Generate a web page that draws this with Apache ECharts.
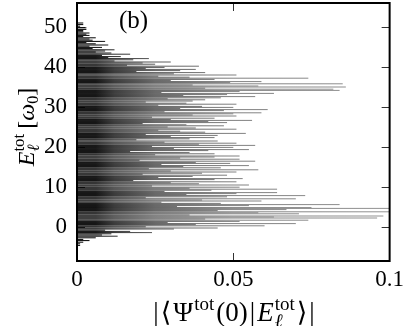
<!DOCTYPE html>
<html><head><meta charset="utf-8">
<script src="https://cdn.jsdelivr.net/npm/echarts@6/dist/echarts.min.js"></script>
<style>html,body{margin:0;padding:0;background:#fff}#c{width:407px;height:326px}</style>
</head><body><div id="c"></div>
<script>
// Eigen-energies E_l^tot (units of omega_0)
const levelEnergy = [
  -4.6,-4.2,-3.8,-3.4,-3.1,-2.7,-2.3,-2.0,-1.7,-1.4,
  -1.1,-0.8,-0.5,-0.25,0.05,0.3,0.6,0.85,1.1,1.4,
  1.7,2.0,2.25,2.5,2.75,3.0,3.3,3.55,3.8,4.1,
  4.35,4.65,4.85,5.1,5.35,5.6,5.9,6.2,6.5,6.75,
  7.05,7.3,7.55,7.85,8.1,8.35,8.6,8.9,9.2,9.45,
  9.7,9.95,10.25,10.5,10.8,11.05,11.3,11.6,11.85,12.1,
  12.4,12.65,12.95,13.2,13.45,13.75,14.0,14.3,14.55,14.8,
  15.1,15.35,15.6,15.9,16.15,16.45,16.7,16.95,17.25,17.5,
  17.75,18.05,18.3,18.6,18.85,19.1,19.35,19.65,19.9,20.15,
  20.4,20.7,20.95,21.2,21.5,21.8,22.05,22.35,22.6,22.9,
  23.15,23.4,23.7,23.95,24.2,24.45,24.75,25.0,25.3,25.55,
  25.85,26.1,26.35,26.65,26.9,27.2,27.45,27.75,28.0,28.3,
  28.55,28.8,29.1,29.35,29.6,29.9,30.15,30.45,30.7,30.95,
  31.25,31.5,31.8,32.05,32.3,32.6,32.85,33.1,33.4,33.65,
  33.9,34.15,34.45,34.7,35.0,35.25,35.5,35.8,36.1,36.35,
  36.6,36.9,37.2,37.45,37.7,38.0,38.3,38.6,38.85,39.1,
  39.4,39.65,39.9,40.2,40.45,40.7,41.0,41.25,41.5,41.8,
  42.1,42.35,42.6,42.9,43.2,43.5,43.75,44.0,44.3,44.6,
  44.9,45.2,45.5,45.8,46.1,46.4,46.7,47.0,47.3,47.6,
  47.9,48.2,48.5,48.8,49.1,49.4,49.8,50.2,50.6,51.0
];
// Overlaps |<Psi^tot(0)|E_l^tot>|
const levelOverlap = [
  0.001,0.001,0.002,0.004,0.002,0.006,0.013,0.008,0.011,0.024,
  0.017,0.009,0.031,0.045,0.022,0.060,0.038,0.070,0.029,0.052,
  0.074,0.041,0.096,0.063,0.098,0.036,0.071,0.058,0.102,0.045,
  0.067,0.101,0.075,0.032,0.055,0.084,0.046,0.027,0.059,0.040,
  0.070,0.022,0.048,0.073,0.035,0.051,0.064,0.028,0.043,0.064,
  0.036,0.052,0.024,0.055,0.039,0.030,0.051,0.018,0.044,0.053,
  0.026,0.037,0.048,0.021,0.040,0.051,0.030,0.058,0.023,0.046,
  0.034,0.055,0.027,0.049,0.038,0.057,0.020,0.052,0.033,0.044,
  0.052,0.025,0.044,0.036,0.017,0.042,0.055,0.031,0.050,0.024,
  0.057,0.039,0.051,0.028,0.045,0.019,0.036,0.044,0.030,0.045,
  0.022,0.054,0.041,0.033,0.026,0.051,0.038,0.029,0.047,0.035,
  0.021,0.048,0.042,0.056,0.030,0.044,0.024,0.051,0.037,0.050,
  0.059,0.028,0.047,0.061,0.033,0.050,0.040,0.026,0.051,0.035,
  0.022,0.037,0.041,0.029,0.046,0.057,0.034,0.048,0.063,0.027,
  0.052,0.084,0.082,0.041,0.086,0.058,0.037,0.085,0.049,0.059,
  0.030,0.044,0.074,0.036,0.026,0.051,0.031,0.041,0.019,0.033,
  0.038,0.022,0.028,0.039,0.016,0.025,0.021,0.030,0.012,0.018,
  0.023,0.010,0.014,0.008,0.017,0.011,0.006,0.009,0.012,0.005,
  0.008,0.004,0.010,0.006,0.003,0.009,0.005,0.004,0.006,0.002,
  0.004,0.003,0.004,0.002,0.002,0.003,0.003,0.001,0.002,0.002
];
const xTicks = [0, 0.05, 0.1];
const xTickLabels = ['0', '0.05', '0.1'];
const yTicks = [0, 10, 20, 30, 40, 50];
const yTickLabels = ['0', '10', '20', '30', '40', '50'];
const panelLabel = '(b)';

const SERIF = "'Liberation Serif','DejaVu Serif',serif";
const chart = echarts.init(document.getElementById('c'));
const data = levelEnergy.map((e, i) => [levelOverlap[i], e]);

function fmt(list, labels) {
  return v => { const i = list.findIndex(t => Math.abs(t - v) < 1e-9); return i >= 0 ? labels[i] : ''; };
}

const tickStyle = {show: true, inside: true, length: 8, lineStyle: {color: '#333', width: 1}};
const labelStyle = {fontFamily: SERIF, fontSize: 23, color: '#000'};

// math-like text layout helper
const mctx = document.createElement('canvas').getContext('2d');
function measure(t, size, italic) {
  mctx.font = (italic ? 'italic ' : '') + size + 'px ' + SERIF;
  return mctx.measureText(t).width;
}
function mathPieces(pieces) {
  // local coords: baseline at y=0, start at x=0
  let x = 0; const els = [];
  pieces.forEach(p => {
    let w = 0;
    p.parts.forEach(q => {
      const s = q.size, it = !!q.italic;
      els.push({type: 'text', x: x + (q.dx || 0), y: (q.dy || 0) + 0.22 * s,
        style: {text: q.t, font: (it ? 'italic ' : '') + s + 'px ' + SERIF, fill: '#000',
          verticalAlign: 'bottom', align: 'left'}});
      w = Math.max(w, measure(q.t, s, it) + (q.dx || 0));
    });
    x += w + (p.gap || 0);
  });
  return {els, width: x};
}

const xt = mathPieces([
  {parts: [{t: '|', size: 27}], gap: 2},
  {parts: [{t: '⟨', size: 27}], gap: 2},
  {parts: [{t: 'Ψ', size: 27}], gap: 1},
  {parts: [{t: 'tot', size: 19, dy: -11}], gap: 2},
  {parts: [{t: '(0)', size: 27}], gap: 2},
  {parts: [{t: '|', size: 27}], gap: 2},
  {parts: [{t: 'E', size: 27, italic: true}], gap: 1},
  {parts: [{t: 'tot', size: 19, dy: -11}, {t: 'ℓ', size: 19, italic: true, dy: 6}], gap: 2},
  {parts: [{t: '⟩', size: 27}], gap: 2},
  {parts: [{t: '|', size: 27}]}
]);
const yt = mathPieces([
  {parts: [{t: 'E', size: 24, italic: true}]},
  {parts: [{t: 'tot', size: 17, dy: -10}, {t: 'ℓ', size: 17, italic: true, dy: 5}], gap: 5},
  {parts: [{t: '[', size: 24}]},
  {parts: [{t: 'ω', size: 24, italic: true}]},
  {parts: [{t: '0', size: 16, dy: 4}]},
  {parts: [{t: ']', size: 24}]}
]);

const noLine = {show: false, onZero: false};
chart.setOption({
  animation: false,
  backgroundColor: '#fff',
  grid: {left: 77, top: 3, width: 313, height: 258, show: true, borderColor: '#000', borderWidth: 2, backgroundColor: 'transparent', z: 10},
  xAxis: [
    {type: 'value', min: 0, max: 0.1, interval: 0.05, position: 'bottom',
     axisLine: noLine, axisTick: tickStyle, splitLine: {show: false},
     axisLabel: Object.assign({formatter: fmt(xTicks, xTickLabels), margin: 7, showMinLabel: true, showMaxLabel: true}, labelStyle)},
    {type: 'value', min: 0, max: 0.1, interval: 0.05, position: 'top',
     axisLine: noLine, axisTick: tickStyle, splitLine: {show: false}, axisLabel: {show: false}}
  ],
  yAxis: [
    {type: 'value', min: -8.5, max: 56, position: 'left',
     axisLine: noLine, axisTick: Object.assign({customValues: yTicks}, tickStyle), splitLine: {show: false},
     axisLabel: Object.assign({customValues: yTicks, formatter: fmt(yTicks, yTickLabels), margin: 10}, labelStyle)},
    {type: 'value', min: -8.5, max: 56, position: 'right',
     axisLine: noLine, axisTick: Object.assign({customValues: yTicks}, tickStyle), splitLine: {show: false},
     axisLabel: {show: false}}
  ],
  series: [{
    type: 'custom',
    xAxisIndex: 0, yAxisIndex: 0,
    clip: true,
    data: data,
    renderItem: function (params, api) {
      const a = api.value(0), e = api.value(1);
      const p0 = api.coord([0, e]);
      const p1 = api.coord([a, e]);
      const W = params.coordSys.width;
      const grad = new echarts.graphic.LinearGradient(p0[0], 0, p0[0] + W, 0, [
        {offset: 0, color: '#000'}, {offset: 0.06, color: '#000'}, {offset: 0.12, color: '#2a2a2a'},
        {offset: 0.25, color: '#5a5a5a'}, {offset: 0.5, color: '#808080'}, {offset: 1, color: '#939393'}
      ], true);
      return {type: 'line', shape: {x1: p0[0], y1: p0[1], x2: p1[0], y2: p1[1]},
        style: {stroke: grad, lineWidth: 1}};
    }
  }],
  graphic: [
    {type: 'text', x: 119, y: 9, style: {text: panelLabel, font: '25px ' + SERIF, fill: '#000'}, z: 20},
    {type: 'group', x: 234 - xt.width / 2, y: 321, children: xt.els},
    {type: 'group', x: 34, y: 127 + yt.width / 2, rotation: Math.PI / 2, children: yt.els}
  ]
});
</script></body></html>
